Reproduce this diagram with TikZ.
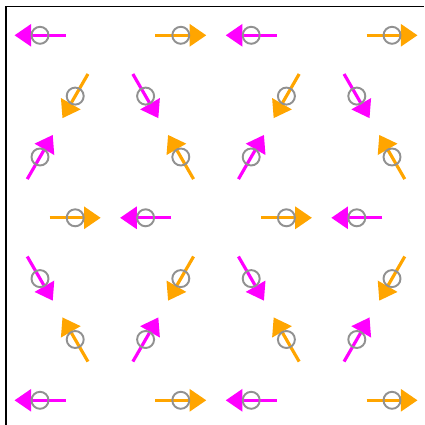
\documentclass[tikz,border=0pt]{standalone}
\usepackage{xcolor}
\usepackage{tikz}
\usetikzlibrary{arrows.meta}
\definecolor{spinup}{HTML}{FF00FF}
\definecolor{spindn}{HTML}{FFA500}
\tikzset{
  spin/.style = {line width=1.8pt, -{Triangle[length=9.5pt, width=12.5pt]}},
  site/.style = {
    circle, draw=black!43, line width=1.1pt,
    minimum size=0.34cm, inner sep=0pt
  },
  frame/.style = {draw=black, line width=0.85pt}
}

\begin{document}
\begin{tikzpicture}[x=0.02cm, y=0.02cm]
\useasboundingbox (0,0) rectangle (424,425);

%% axes frame (left and top)
\coordinate (corner) at (5.8,418.7);
\draw[frame] (5.8,0) -- (corner) -- (424,418.7);

%% lattice sites: row / height / two columns / colour and angle of each
\foreach \k/\ry/\xa/\xb/\ca/\aa/\cb/\ab in {
    0/389.7/40/180.8/spinup/180/spindn/0,
    1/328.9/75.2/145.6/spindn/-120/spinup/-60,
    2/268.0/40/180.8/spinup/60/spindn/120,
    3/207.2/75.2/145.6/spindn/0/spinup/180,
    4/146.4/40/180.8/spinup/-60/spindn/-120,
    5/85.5/75.2/145.6/spindn/120/spinup/60,
    6/24.7/40/180.8/spinup/180/spindn/0}
  \foreach \h in {0,1} {
    \coordinate (s\k-\h-a) at (\xa+211.2*\h, \ry);
    \coordinate (s\k-\h-b) at (\xb+211.2*\h, \ry);
    %% spins
    \draw[spin, \ca] ([shift={(\aa+180:25.5)}]s\k-\h-a) -- ([shift={(\aa:25.5)}]s\k-\h-a);
    \draw[spin, \cb] ([shift={(\ab+180:25.5)}]s\k-\h-b) -- ([shift={(\ab:25.5)}]s\k-\h-b);
    %% site markers on top
    \node[site] (n\k-\h-a) at (s\k-\h-a) {};
    \node[site] (n\k-\h-b) at (s\k-\h-b) {};
  }

\end{tikzpicture}
\end{document}
